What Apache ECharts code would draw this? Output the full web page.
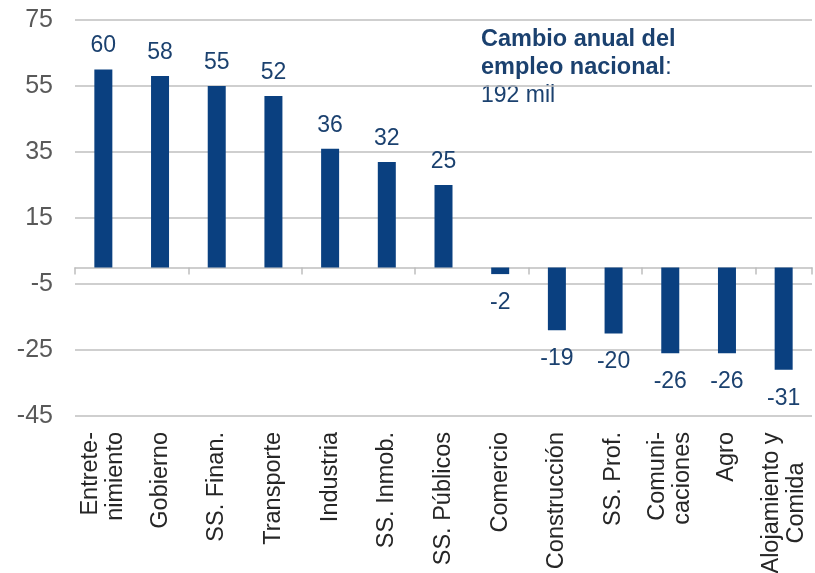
<!DOCTYPE html>
<html>
<head>
<meta charset="utf-8">
<script src="https://cdn.jsdelivr.net/npm/echarts@6/dist/echarts.min.js"></script>
<style>
html,body{margin:0;padding:0;background:#fff;}
#c{width:815px;height:573px;}
</style>
</head>
<body>
<div id="c"></div>
<script>
const categories = ['Entrete-\nnimiento','Gobierno','SS. Finan.','Transporte','Industria','SS. Inmob.','SS. Públicos','Comercio','Construcción','SS. Prof.','Comuni-\ncaciones','Agro','Alojamiento y\nComida'];
const values = [60,58,55,52,36,32,25,-2,-19,-20,-26,-26,-31];
const yMin = -45, yMax = 75, yStep = 20;

const FONT = 'Liberation Sans, Arial, sans-serif';
const CAT_FS = 23.5;
const chart = echarts.init(document.getElementById('c'));
chart.setOption({
  animation: false,
  grid: {left: 75, right: 3, top: 20, bottom: 157, containLabel: false, outerBoundsMode: 'none'},
  xAxis: [{
    type: 'category', data: categories, position: 'bottom',
    axisLine: {show: false, onZero: false}, axisTick: {show: false},
    axisLabel: {rotate: 90, margin: 16, fontSize: CAT_FS, color: '#262626', fontFamily: FONT, lineHeight: 25, interval: 0,
      formatter: v => v.indexOf('\n') > 0 && v.startsWith('Aloj') ? v.split('\n').map(s => '{w|' + s + '}').join('\n') : v,
      rich: {w: {fontSize: CAT_FS, fontFamily: FONT, color: '#262626', width: 142, align: 'center', lineHeight: 25}}
    }
  }, {
    type: 'category', data: categories, position: 'bottom',
    axisLine: {show: true, onZero: true, lineStyle: {color: '#BFBFBF', width: 1.5}},
    axisTick: {show: true, length: 7, lineStyle: {color: '#BFBFBF', width: 1.5}},
    axisLabel: {show: false}, splitLine: {show: false}
  }],
  yAxis: {
    type: 'value', min: yMin, max: yMax, interval: yStep,
    axisLine: {show: false}, axisTick: {show: false},
    axisLabel: {fontSize: 25, color: '#595959', margin: 22, fontFamily: FONT},
    splitLine: {lineStyle: {color: '#BFBFBF', width: 1.5}}
  },
  series: [{
    type: 'bar', xAxisIndex: 0, barWidth: 18,
    data: values.map(v => ({value: v, label: {distance: v < 0 ? 17 : 12}})),
    itemStyle: {color: '#0A4080'},
    label: {show: true, position: 'outside', fontSize: 23, color: '#1B416F', fontFamily: FONT,
      formatter: p => String(p.value)}
  }],
  graphic: [{
    type: 'text', left: 481, top: 28,
    style: {
      text: '{b|Cambio anual del}\n{b|empleo nacional}{r|:}\n{r|192 mil}',
      fontFamily: FONT,
      rich: {
        b: {fontSize: 23.5, fontWeight: 'bold', fill: '#1B416F', fontFamily: FONT, lineHeight: 27},
        r: {fontSize: 23, fill: '#1B416F', fontFamily: FONT, lineHeight: 28}
      }
    }
  }]
});
</script>
</body>
</html>
